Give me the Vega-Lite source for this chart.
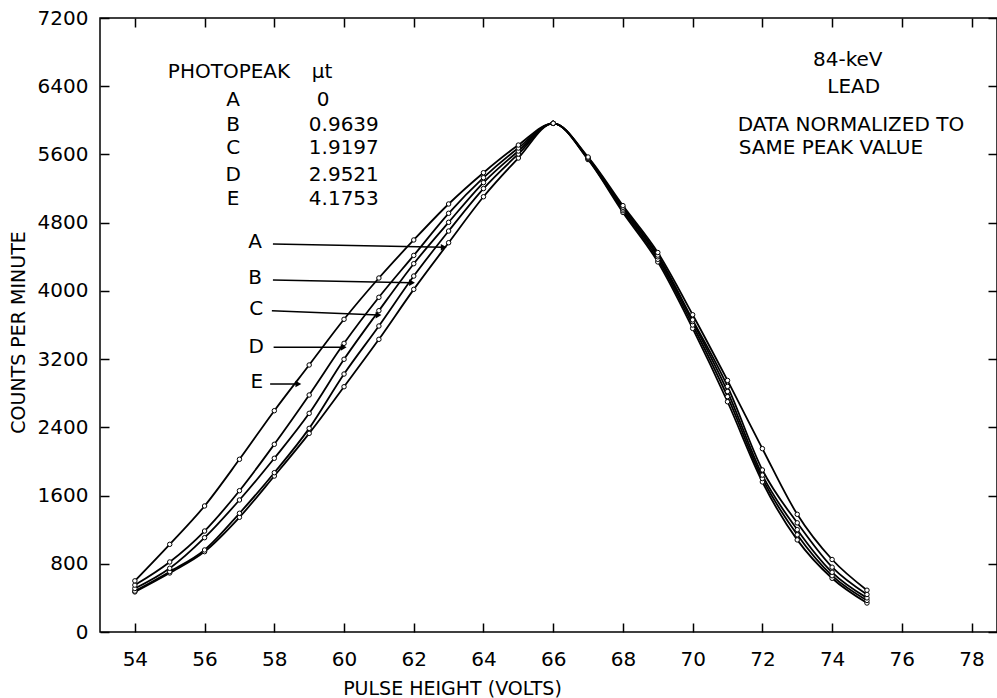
{
  "$schema": "https://vega.github.io/schema/vega-lite/v6.json",
  "width": 897,
  "height": 614,
  "autosize": {"type": "none"},
  "padding": {"left": 100, "top": 18, "right": 0, "bottom": 66},
  "background": "white",
  "config": {
    "view": {"stroke": "black", "strokeWidth": 1.5},
    "font": "DejaVu Sans",
    "axis": {
      "domainColor": "black", "domainWidth": 1.5, "tickColor": "black", "tickWidth": 1.5,
      "labelColor": "black", "titleColor": "black", "labelFont": "DejaVu Sans", "titleFont": "DejaVu Sans",
      "labelFontSize": 20, "titleFontSize": 19, "titleFontWeight": "normal", "grid": false
    }
  },
  "datasets": {
    "curves": [
      {"p":"A","x":54,"c":470},{"p":"A","x":55,"c":692},{"p":"A","x":56,"c":942},{"p":"A","x":57,"c":1345},{"p":"A","x":58,"c":1829},{"p":"A","x":59,"c":2329},{"p":"A","x":60,"c":2876},{"p":"A","x":61,"c":3432},{"p":"A","x":62,"c":4018},{"p":"A","x":63,"c":4565},{"p":"A","x":64,"c":5104},{"p":"A","x":65,"c":5558},{"p":"A","x":66,"c":5965},{"p":"A","x":67,"c":5540},{"p":"A","x":68,"c":4920},{"p":"A","x":69,"c":4340},{"p":"A","x":70,"c":3560},{"p":"A","x":71,"c":2700},{"p":"A","x":72,"c":1760},{"p":"A","x":73,"c":1080},{"p":"A","x":74,"c":630},{"p":"A","x":75,"c":340},
      {"p":"B","x":54,"c":480},{"p":"B","x":55,"c":707},{"p":"B","x":56,"c":962},{"p":"B","x":57,"c":1392},{"p":"B","x":58,"c":1868},{"p":"B","x":59,"c":2388},{"p":"B","x":60,"c":3025},{"p":"B","x":61,"c":3588},{"p":"B","x":62,"c":4174},{"p":"B","x":63,"c":4702},{"p":"B","x":64,"c":5200},{"p":"B","x":65,"c":5605},{"p":"B","x":66,"c":5965},{"p":"B","x":67,"c":5545},{"p":"B","x":68,"c":4940},{"p":"B","x":69,"c":4370},{"p":"B","x":70,"c":3600},{"p":"B","x":71,"c":2760},{"p":"B","x":72,"c":1800},{"p":"B","x":73,"c":1140},{"p":"B","x":74,"c":660},{"p":"B","x":75,"c":370},
      {"p":"C","x":54,"c":510},{"p":"C","x":55,"c":747},{"p":"C","x":56,"c":1106},{"p":"C","x":57,"c":1548},{"p":"C","x":58,"c":2037},{"p":"C","x":59,"c":2564},{"p":"C","x":60,"c":3198},{"p":"C","x":61,"c":3768},{"p":"C","x":62,"c":4319},{"p":"C","x":63,"c":4804},{"p":"C","x":64,"c":5270},{"p":"C","x":65,"c":5640},{"p":"C","x":66,"c":5965},{"p":"C","x":67,"c":5555},{"p":"C","x":68,"c":4960},{"p":"C","x":69,"c":4400},{"p":"C","x":70,"c":3640},{"p":"C","x":71,"c":2820},{"p":"C","x":72,"c":1840},{"p":"C","x":73,"c":1200},{"p":"C","x":74,"c":700},{"p":"C","x":75,"c":400},
      {"p":"D","x":54,"c":550},{"p":"D","x":55,"c":821},{"p":"D","x":56,"c":1184},{"p":"D","x":57,"c":1657},{"p":"D","x":58,"c":2201},{"p":"D","x":59,"c":2779},{"p":"D","x":60,"c":3385},{"p":"D","x":61,"c":3925},{"p":"D","x":62,"c":4416},{"p":"D","x":63,"c":4910},{"p":"D","x":64,"c":5328},{"p":"D","x":65,"c":5675},{"p":"D","x":66,"c":5965},{"p":"D","x":67,"c":5560},{"p":"D","x":68,"c":4980},{"p":"D","x":69,"c":4420},{"p":"D","x":70,"c":3660},{"p":"D","x":71,"c":2880},{"p":"D","x":72,"c":1900},{"p":"D","x":73,"c":1280},{"p":"D","x":74,"c":760},{"p":"D","x":75,"c":440},
      {"p":"E","x":54,"c":600},{"p":"E","x":55,"c":1028},{"p":"E","x":56,"c":1478},{"p":"E","x":57,"c":2025},{"p":"E","x":58,"c":2595},{"p":"E","x":59,"c":3131},{"p":"E","x":60,"c":3667},{"p":"E","x":61,"c":4151},{"p":"E","x":62,"c":4597},{"p":"E","x":63,"c":5019},{"p":"E","x":64,"c":5386},{"p":"E","x":65,"c":5710},{"p":"E","x":66,"c":5965},{"p":"E","x":67,"c":5570},{"p":"E","x":68,"c":5000},{"p":"E","x":69,"c":4450},{"p":"E","x":70,"c":3720},{"p":"E","x":71,"c":2950},{"p":"E","x":72,"c":2150},{"p":"E","x":73,"c":1380},{"p":"E","x":74,"c":850},{"p":"E","x":75,"c":490}
    ],
    "ctext": [
      {"x":56.70,"y":6567,"t":"PHOTOPEAK"},
      {"x":59.37,"y":6567,"t":"μt"},
      {"x":56.82,"y":6238,"t":"A"},
      {"x":56.82,"y":5945,"t":"B"},
      {"x":56.82,"y":5675,"t":"C"},
      {"x":56.82,"y":5359,"t":"D"},
      {"x":56.82,"y":5077,"t":"E"},
      {"x":59.40,"y":6238,"t":"0"},
      {"x":74.45,"y":6707,"t":"84-keV"},
      {"x":74.62,"y":6391,"t":"LEAD"},
      {"x":57.45,"y":4577,"t":"A"},
      {"x":57.45,"y":4148,"t":"B"},
      {"x":57.48,"y":3784,"t":"C"},
      {"x":57.48,"y":3345,"t":"D"},
      {"x":57.50,"y":2935,"t":"E"}
    ],
    "ltext": [
      {"x":58.99,"y":5945,"t":"0.9639"},
      {"x":58.99,"y":5675,"t":"1.9197"},
      {"x":58.99,"y":5359,"t":"2.9521"},
      {"x":58.99,"y":5077,"t":"4.1753"},
      {"x":71.29,"y":5945,"t":"DATA NORMALIZED TO"},
      {"x":71.32,"y":5675,"t":"SAME PEAK VALUE"}
    ],
    "arrows": [
      {"x":57.96,"y":4550,"x2":62.86,"y2":4511},
      {"x":57.96,"y":4128,"x2":61.95,"y2":4096},
      {"x":57.93,"y":3768,"x2":60.99,"y2":3717},
      {"x":57.98,"y":3338,"x2":59.99,"y2":3338},
      {"x":57.88,"y":2908,"x2":58.69,"y2":2908}
    ]
  },
  "layer": [
    {
      "data": {"name": "curves"},
      "mark": {"type": "line", "interpolate": "monotone", "color": "black", "strokeWidth": 1.8},
      "encoding": {
        "x": {"field": "x", "type": "quantitative", "scale": {"domain": [53, 78.73], "nice": false, "zero": false},
              "axis": {"orient": "bottom", "values": [54,56,58,60,62,64,66,68,70,72,74,76,78], "format": "d", "tickSize": -9, "labelPadding": 26,
                       "title": "PULSE HEIGHT (VOLTS)", "titleX": 352, "titleY": 56, "titleAlign": "center", "titleBaseline": "middle", "domain": false}},
        "y": {"field": "c", "type": "quantitative", "scale": {"domain": [0, 7200], "nice": false},
              "axis": {"orient": "left", "values": [0,800,1600,2400,3200,4000,4800,5600,6400,7200], "format": "d", "tickSize": -9, "labelPadding": 21,
                       "title": "COUNTS PER MINUTE", "titleX": -82, "titleY": 314, "titleAlign": "center", "titleBaseline": "middle", "titleAngle": -90, "domain": false}},
        "detail": {"field": "p", "type": "nominal"}
      }
    },
    {
      "data": {"name": "curves"},
      "mark": {"type": "point", "shape": "circle", "filled": true, "fill": "white", "stroke": "black", "strokeWidth": 1, "size": 20, "opacity": 1},
      "encoding": {
        "x": {"field": "x", "type": "quantitative", "axis": null},
        "y": {"field": "c", "type": "quantitative", "axis": null}
      }
    },
    {
      "data": {"name": "arrows"},
      "mark": {"type": "rule", "color": "black", "strokeWidth": 1.5},
      "encoding": {
        "x": {"field": "x", "type": "quantitative", "axis": null},
        "y": {"field": "y", "type": "quantitative", "axis": null},
        "x2": {"field": "x2"},
        "y2": {"field": "y2"}
      }
    },
    {
      "data": {"name": "arrows"},
      "mark": {"type": "point", "shape": "triangle-right", "filled": true, "color": "black", "size": 45, "opacity": 1},
      "encoding": {
        "x": {"field": "x2", "type": "quantitative", "axis": null},
        "y": {"field": "y2", "type": "quantitative", "axis": null}
      }
    },
    {
      "data": {"name": "ctext"},
      "mark": {"type": "text", "align": "center", "baseline": "middle", "fontSize": 20, "font": "DejaVu Sans", "color": "black"},
      "encoding": {
        "x": {"field": "x", "type": "quantitative", "axis": null},
        "y": {"field": "y", "type": "quantitative", "axis": null},
        "text": {"field": "t"}
      }
    },
    {
      "data": {"name": "ltext"},
      "mark": {"type": "text", "align": "left", "baseline": "middle", "fontSize": 20, "font": "DejaVu Sans", "color": "black"},
      "encoding": {
        "x": {"field": "x", "type": "quantitative", "axis": null},
        "y": {"field": "y", "type": "quantitative", "axis": null},
        "text": {"field": "t"}
      }
    },
    {
      "data": {"name": "curves"},
      "mark": {"type": "point", "opacity": 0},
      "encoding": {
        "x": {"field": "x", "type": "quantitative",
              "axis": {"orient": "top", "values": [54,56,58,60,62,64,66,68,70,72,74,76,78], "tickSize": -9, "labels": false, "title": null, "domain": false}},
        "y": {"field": "c", "type": "quantitative",
              "axis": {"orient": "right", "values": [0,800,1600,2400,3200,4000,4800,5600,6400,7200], "tickSize": -9, "labels": false, "title": null, "domain": false}}
      }
    }
  ],
  "resolve": {"axis": {"x": "independent", "y": "independent"}}
}
